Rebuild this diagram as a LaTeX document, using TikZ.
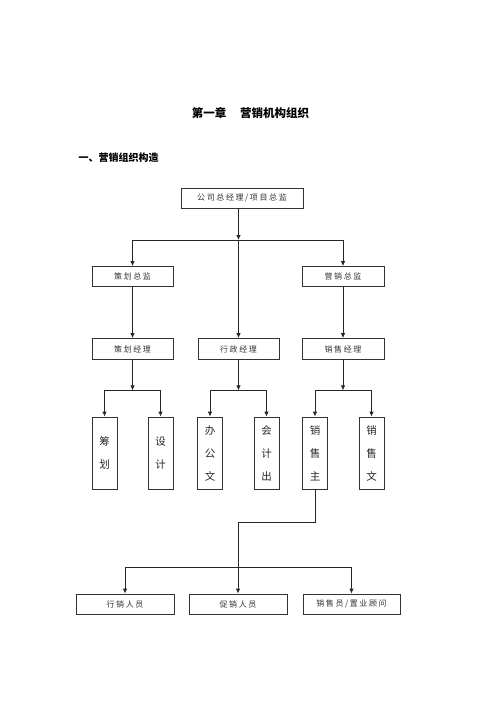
\documentclass[tikz,border=0pt]{standalone}
\usepackage{fontspec}
\newfontfamily\cjk{Noto Sans CJK SC}
\newfontfamily\cjkbox[LetterSpace=20]{Noto Sans CJK SC}
\usetikzlibrary{calc,arrows.meta}

\begin{document}
\begin{tikzpicture}[x=1pt,y=-1pt,>={Latex[length=5pt,width=4.5pt]},
        box/.style={draw=black!80,line width=0.8pt,inner sep=0pt,minimum height=20pt,
            font=\cjkbox\fontsize{8}{8}\selectfont,text=black!80},
        vbox/.style={draw=black!80,line width=0.8pt,inner sep=0pt,minimum width=25pt,
            minimum height=72pt,align=center,font=\cjk\fontsize{10.5}{23}\selectfont,text=black!85},
        link/.style={->,line width=0.8pt,draw=black!85}]
            \useasboundingbox (0,0) rectangle (500,707);
            \node (title) at (250.5,113) {\cjk\bfseries\fontsize{11.5}{12}\selectfont 第一章\hspace{1.2em}营销机构组织};
            \node[anchor=west] (sec) at (75,158) {\cjk\bfseries\fontsize{10}{12}\selectfont 一、营销组织构造};
            \node[box,minimum width=122pt] (gm) at (242,198) {公司总经理/项目总监};
            \node[box,minimum width=81pt] (plan) at (132.5,276.5) {策划总监};
            \node[box,minimum width=82pt] (mkt) at (343,276.5) {营销总监};
            \node[box,minimum width=81pt,minimum height=21pt] (planm) at (132.5,349) {策划经理};
            \node[box,minimum width=81pt,minimum height=21pt] (adm) at (238.5,349) {行政经理};
            \node[box,minimum width=82pt,minimum height=21pt] (sales) at (343,349) {销售经理};
            \node[vbox] (chouhua) at (104.5,453) {筹\\划};
            \node[vbox] (sheji) at (160.5,453) {设\\计};
            \node[vbox] (bangong) at (210,453) {办\\公\\文};
            \node[vbox] (kuaiji) at (266.5,453) {会\\计\\出};
            \node[vbox] (zhu) at (315,453) {销\\售\\主};
            \node[vbox] (wen) at (371.5,453) {销\\售\\文};
            \node[box,minimum width=98pt] (xingxiao) at (125,604) {行销人员};
            \node[box,minimum width=98pt] (cuxiao) at (238,604) {促销人员};
            \node[box,minimum width=97pt] (guwen) at (351.5,604) {销售员/置业顾问};
            \coordinate (j1) at (238.5,240);
            \draw[link] (gm.south -| adm.north) -- (j1);
            \draw[link] (j1) -- (adm);
            \draw[link] (j1) -| (plan);
            \draw[link] (j1) -| (mkt);
            \draw[link] (plan) -- (planm);
            \draw[link] (mkt) -- (sales);
            \coordinate (j2) at ($(planm.south)+(0,30.5)$);
            \coordinate (j3) at ($(adm.south)+(0,30.5)$);
            \coordinate (j4) at ($(sales.south)+(0,30.5)$);
            \draw[link] (planm) -- (j2);
            \draw[link] (j2) -| (chouhua);
            \draw[link] (j2) -| (sheji);
            \draw[link] (adm) -- (j3);
            \draw[link] (j3) -| (bangong);
            \draw[link] (j3) -| (kuaiji);
            \draw[link] (sales) -- (j4);
            \draw[link] (j4) -| (zhu);
            \draw[link] (j4) -| (wen);
            \coordinate (k1) at ($(zhu.south)+(0,33)$);
            \coordinate (k2) at ($(cuxiao.north)+(0,-26)$);
            \draw[link] (zhu) -- (k1) -| (cuxiao);
            \draw[link] (k2) -| (xingxiao);
            \draw[link] (k2) -| (guwen);
        \end{tikzpicture}
\end{document}
